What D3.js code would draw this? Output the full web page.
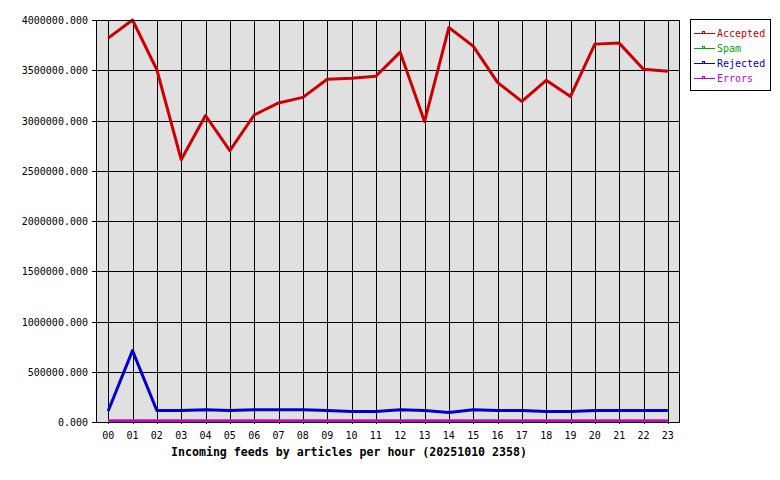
<!DOCTYPE html>
<html>
<head>
<meta charset="utf-8">
<script src="https://cdn.jsdelivr.net/npm/d3@7"></script>
<style>
  body { margin: 0; background: #fff; }
  text { font-family: "DejaVu Sans Mono", monospace; }
</style>
</head>
<body>
<svg id="chart" width="780" height="480"></svg>
<script>
// hours on the x axis
var hours = ["00","01","02","03","04","05","06","07","08","09","10","11",
             "12","13","14","15","16","17","18","19","20","21","22","23"];

// articles per hour
var accepted = [3810000, 3990000, 3495000, 2600000, 3040000, 2690000, 3045000, 3165000,
                3220000, 3400000, 3410000, 3430000, 3670000, 2980000, 3915000, 3730000,
                3370000, 3180000, 3390000, 3230000, 3750000, 3760000, 3500000, 3480000];
var spam     = [0,0,0,0,0,0,0,0,0,0,0,0,0,0,0,0,0,0,0,0,0,0,0,0];
var rejected = [100000, 700000, 105000, 105000, 112000, 105000, 112000, 112000,
                112000, 105000, 95000, 95000, 112000, 105000, 85000, 112000,
                105000, 105000, 95000, 95000, 105000, 105000, 105000, 105000];
var errors   = [0,0,0,0,0,0,0,0,0,0,0,0,0,0,0,0,0,0,0,0,0,0,0,0];

var yTicks = [0, 500000, 1000000, 1500000, 2000000, 2500000, 3000000, 3500000, 4000000];

var seriesNames = ["Accepted", "Spam", "Rejected", "Errors"];
var seriesColors = ["#cc0000", "#00aa00", "#0000cc", "#cc00cc"];
var seriesData = [accepted, spam, rejected, errors];

var title = "Incoming feeds by articles per hour (20251010 2358)";

// plot box ("top" is taken by window.top, so use other names)
var plotLeft = 96, plotRight = 680, plotTop = 20, plotBottom = 422;

var x = d3.scaleLinear().domain([-0.5, 23.5]).range([plotLeft, plotRight]);
var y = d3.scaleLinear().domain([0, 4000000]).range([plotBottom, plotTop]);

var svg = d3.select("#chart");

// plot background
svg.append("rect")
    .attr("x", plotLeft).attr("y", plotTop)
    .attr("width", plotRight - plotLeft).attr("height", plotBottom - plotTop)
    .attr("fill", "#e0e0e0");

// grid lines
var grid = svg.append("g").attr("shape-rendering", "crispEdges");
grid.selectAll("line.h")
    .data(yTicks)
    .enter().append("line")
    .attr("class", "h")
    .attr("x1", plotLeft - 4).attr("x2", plotRight)
    .attr("y1", function(d) { return Math.round(y(d)) + 0.5; })
    .attr("y2", function(d) { return Math.round(y(d)) + 0.5; })
    .attr("stroke", "#000");
grid.selectAll("line.v")
    .data(hours)
    .enter().append("line")
    .attr("class", "v")
    .attr("x1", function(d, i) { return Math.round(x(i)) + 0.5; })
    .attr("x2", function(d, i) { return Math.round(x(i)) + 0.5; })
    .attr("y1", plotTop).attr("y2", plotBottom + 2)
    .attr("stroke", "#000");

// y labels
svg.append("g").selectAll("text")
    .data(yTicks)
    .enter().append("text")
    .attr("x", 88)
    .attr("y", function(d) { return y(d) + 4; })
    .attr("text-anchor", "end")
    .attr("font-size", "10px")
    .attr("fill", "#000")
    .text(function(d) { return d3.format(".3f")(d); });

// x labels
svg.append("g").selectAll("text")
    .data(hours)
    .enter().append("text")
    .attr("x", function(d, i) { return x(i); })
    .attr("y", 439)
    .attr("text-anchor", "middle")
    .attr("font-size", "10px")
    .attr("fill", "#000")
    .text(function(d) { return d; });

// data lines, clipped at the bottom border
svg.append("clipPath").attr("id", "clip")
    .append("rect").attr("x", plotLeft).attr("y", 0)
    .attr("width", plotRight - plotLeft).attr("height", plotBottom);

var line = d3.line()
    .x(function(d, i) { return x(i); })
    .y(function(d) { return y(d) - 1; });

svg.append("g").attr("clip-path", "url(#clip)")
    .selectAll("path")
    .data(seriesData)
    .enter().append("path")
    .attr("d", line)
    .attr("fill", "none")
    .attr("stroke", function(d, i) { return seriesColors[i]; })
    .attr("stroke-width", 3)
    .attr("stroke-linejoin", "round");

// plot border
svg.append("rect")
    .attr("x", plotLeft + 0.5).attr("y", plotTop + 0.5)
    .attr("width", plotRight - plotLeft - 1).attr("height", plotBottom - plotTop)
    .attr("fill", "none")
    .attr("stroke", "#000")
    .attr("shape-rendering", "crispEdges");

// title
svg.append("text")
    .attr("x", (171 + 527) / 2)
    .attr("y", 456)
    .attr("text-anchor", "middle")
    .attr("font-size", "11.6px")
    .attr("font-weight", "bold")
    .attr("fill", "#000")
    .text(title);

// legend
var legend = svg.append("g");
legend.append("rect")
    .attr("x", 690.5).attr("y", 19.5)
    .attr("width", 80).attr("height", 71)
    .attr("fill", "#fff").attr("stroke", "#000")
    .attr("shape-rendering", "crispEdges");

var items = legend.selectAll("g.item")
    .data(seriesNames)
    .enter().append("g")
    .attr("class", "item")
    .attr("transform", function(d, i) { return "translate(0," + (33 + i * 15) + ")"; });
items.append("line")
    .attr("x1", 694).attr("x2", 715)
    .attr("y1", 0.5).attr("y2", 0.5)
    .attr("stroke", function(d, i) { return seriesColors[i]; })
    .attr("shape-rendering", "crispEdges");
items.append("rect")
    .attr("x", 702.5).attr("y", -1.5)
    .attr("width", 2).attr("height", 2)
    .attr("fill", "none")
    .attr("stroke", function(d, i) { return seriesColors[i]; })
    .attr("shape-rendering", "crispEdges");
items.append("text")
    .attr("x", 717).attr("y", 4)
    .attr("font-size", "10px")
    .attr("fill", function(d, i) { return seriesColors[i]; })
    .text(function(d) { return d; });
</script>
</body>
</html>
